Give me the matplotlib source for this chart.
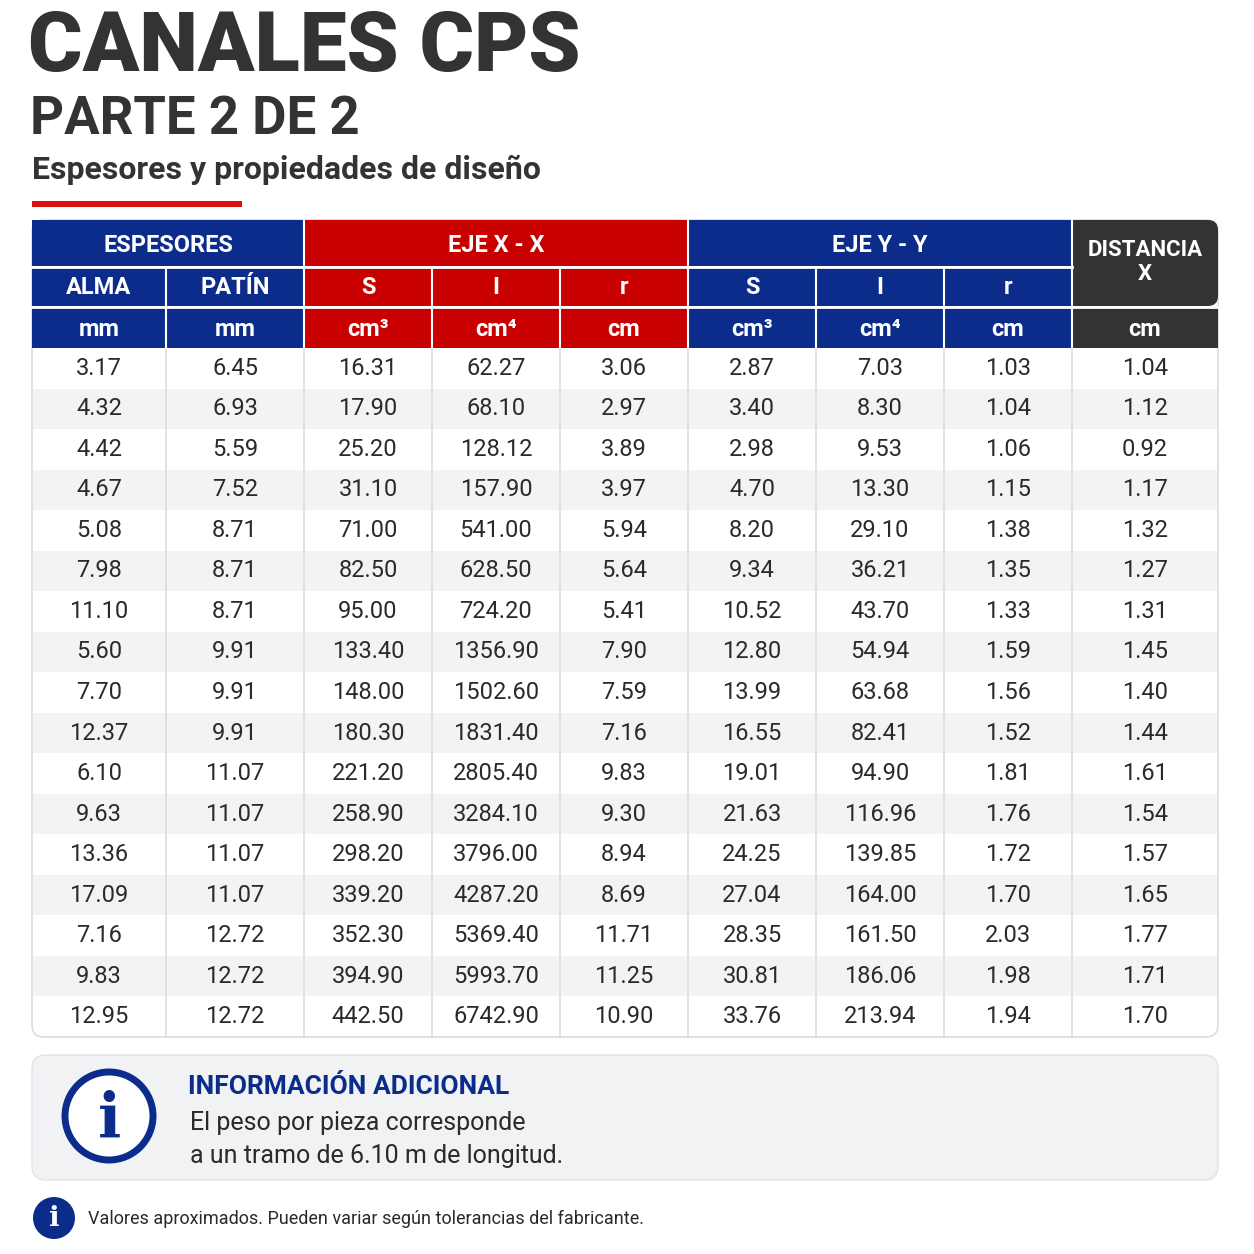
import matplotlib
matplotlib.use("Agg")
import matplotlib.pyplot as plt
from matplotlib.patches import Rectangle, FancyBboxPatch, Circle

plt.rcParams['font.family'] = ['Roboto', 'DejaVu Sans']

alma = ["3.17", "4.32", "4.42", "4.67", "5.08", "7.98", "11.10", "5.60", "7.70", "12.37",
        "6.10", "9.63", "13.36", "17.09", "7.16", "9.83", "12.95"]
patin = ["6.45", "6.93", "5.59", "7.52", "8.71", "8.71", "8.71", "9.91", "9.91", "9.91",
         "11.07", "11.07", "11.07", "11.07", "12.72", "12.72", "12.72"]
sx = ["16.31", "17.90", "25.20", "31.10", "71.00", "82.50", "95.00", "133.40", "148.00", "180.30",
      "221.20", "258.90", "298.20", "339.20", "352.30", "394.90", "442.50"]
ix = ["62.27", "68.10", "128.12", "157.90", "541.00", "628.50", "724.20", "1356.90", "1502.60", "1831.40",
      "2805.40", "3284.10", "3796.00", "4287.20", "5369.40", "5993.70", "6742.90"]
rx = ["3.06", "2.97", "3.89", "3.97", "5.94", "5.64", "5.41", "7.90", "7.59", "7.16",
      "9.83", "9.30", "8.94", "8.69", "11.71", "11.25", "10.90"]
sy = ["2.87", "3.40", "2.98", "4.70", "8.20", "9.34", "10.52", "12.80", "13.99", "16.55",
      "19.01", "21.63", "24.25", "27.04", "28.35", "30.81", "33.76"]
iy = ["7.03", "8.30", "9.53", "13.30", "29.10", "36.21", "43.70", "54.94", "63.68", "82.41",
      "94.90", "116.96", "139.85", "164.00", "161.50", "186.06", "213.94"]
ry = ["1.03", "1.04", "1.06", "1.15", "1.38", "1.35", "1.33", "1.59", "1.56", "1.52",
      "1.81", "1.76", "1.72", "1.70", "2.03", "1.98", "1.94"]
dist = ["1.04", "1.12", "0.92", "1.17", "1.32", "1.27", "1.31", "1.45", "1.40", "1.44",
        "1.61", "1.54", "1.57", "1.65", "1.77", "1.71", "1.70"]
columns = [alma, patin, sx, ix, rx, sy, iy, ry, dist]

sub_labels = ["ALMA", "PATÍN", "S", "I", "r", "S", "I", "r"]
unit_labels = ["mm", "mm", "cm³", "cm⁴", "cm", "cm³", "cm⁴", "cm", "cm"]

NAVY = "#0c2c8c"
RED = "#c80000"
DARK = "#333333"
TXT = "#2a2a2a"

edges = [32, 166, 304, 432, 560, 688, 816, 944, 1072, 1218]
col_colors = [NAVY, NAVY, RED, RED, RED, NAVY, NAVY, NAVY, DARK]

fig = plt.figure(figsize=(12.54, 12.54), dpi=100)
ax = fig.add_axes([0, 0, 1, 1])
ax.set_xlim(0, 1254)
ax.set_ylim(1254, 0)
ax.axis("off")

# titles
ax.text(28, 48, "CANALES CPS", fontsize=60, fontweight="black", color=DARK, va="center", ha="left")
ax.text(30, 119, "PARTE 2 DE 2", fontsize=38, fontweight="bold", color=DARK, va="center", ha="left")
ax.text(32, 170, "Espesores y propiedades de diseño", fontsize=23, fontweight="bold", color=DARK,
        va="center", ha="left")
ax.add_patch(Rectangle((32, 201), 210, 6, color="#e01010", lw=0))

# table body
n = len(alma)
top, bottom = 348, 1037
rh = (bottom - top) / n
ax.add_patch(FancyBboxPatch((32, 220), 1186, bottom - 220, boxstyle="round,pad=0,rounding_size=12",
                            fc="white", ec="#dddddd", lw=1.2))
for i in range(n):
    y0 = top + i * rh
    if i % 2 == 1:
        ax.add_patch(Rectangle((33, y0), 1184, rh, color="#f3f3f3", lw=0))
    for j, col in enumerate(columns):
        xc = (edges[j] + edges[j + 1]) / 2
        ax.text(xc, y0 + rh / 2, col[i], fontsize=17, color=TXT, ha="center", va="center")
for x in edges[1:-1]:
    ax.plot([x, x], [top, bottom], color="#dddddd", lw=1.2)

# headers
groups = [(0, 2, NAVY, "ESPESORES"), (2, 5, RED, "EJE X - X"), (5, 8, NAVY, "EJE Y - Y")]
for a, b, c, lab in groups:
    ax.add_patch(Rectangle((edges[a], 220), edges[b] - edges[a], 46, color=c, lw=0))
    ax.text((edges[a] + edges[b]) / 2, 245, lab, fontsize=17, fontweight="bold", color="white",
            ha="center", va="center")
ax.add_patch(FancyBboxPatch((1072, 220), 146, 86, boxstyle="round,pad=0,rounding_size=10", color=DARK, lw=0))
ax.add_patch(Rectangle((1072, 220), 20, 86, color=DARK, lw=0))
ax.text(1145, 262, "DISTANCIA\nX", fontsize=16, fontweight="bold", color="white", ha="center",
        va="center", linespacing=1.1)
ax.add_patch(FancyBboxPatch((32, 220), 40, 46, boxstyle="round,pad=0,rounding_size=10", color=NAVY, lw=0))
for j in range(8):
    ax.add_patch(Rectangle((edges[j], 268), edges[j + 1] - edges[j], 38, color=col_colors[j], lw=0))
    ax.text((edges[j] + edges[j + 1]) / 2, 288, sub_labels[j], fontsize=17, fontweight="bold",
            color="white", ha="center", va="center")
for j in range(9):
    ax.add_patch(Rectangle((edges[j], 308), edges[j + 1] - edges[j], 40, color=col_colors[j], lw=0))
    ax.text((edges[j] + edges[j + 1]) / 2, 329, unit_labels[j], fontsize=17, fontweight="bold",
            color="white", ha="center", va="center")
for x in edges[1:-1]:
    ax.plot([x, x], [220 if x in (304, 688, 1072) else 268, 348], color="white", lw=1.5)
ax.plot([32, 1072], [267, 267], color="white", lw=2)
ax.plot([32, 1218], [307, 307], color="white", lw=2)

# info box
ax.add_patch(FancyBboxPatch((32, 1055), 1186, 125, boxstyle="round,pad=0,rounding_size=14",
                            fc="#f1f2f4", ec="#e2e3e6", lw=1))
ax.add_patch(Circle((109, 1116), 44, fc="white", ec=NAVY, lw=5))
ax.text(109, 1120, "i", fontsize=44, fontweight="bold", family="DejaVu Serif", color=NAVY,
        ha="center", va="center")
ax.text(188, 1087, "INFORMACIÓN ADICIONAL", fontsize=19, fontweight="bold", color=NAVY, va="center")
ax.text(190, 1123, "El peso por pieza corresponde", fontsize=18, color=TXT, va="center")
ax.text(190, 1156, "a un tramo de 6.10 m de longitud.", fontsize=18, color=TXT, va="center")

# footer
ax.add_patch(Circle((54, 1218), 21, color=NAVY, lw=0))
ax.text(54, 1219, "i", fontsize=20, fontweight="bold", family="DejaVu Serif", color="white",
        ha="center", va="center")
ax.text(88, 1219, "Valores aproximados. Pueden variar según tolerancias del fabricante.",
        fontsize=13, color=TXT, va="center")

fig.savefig("out.png", dpi=100, facecolor="white")
